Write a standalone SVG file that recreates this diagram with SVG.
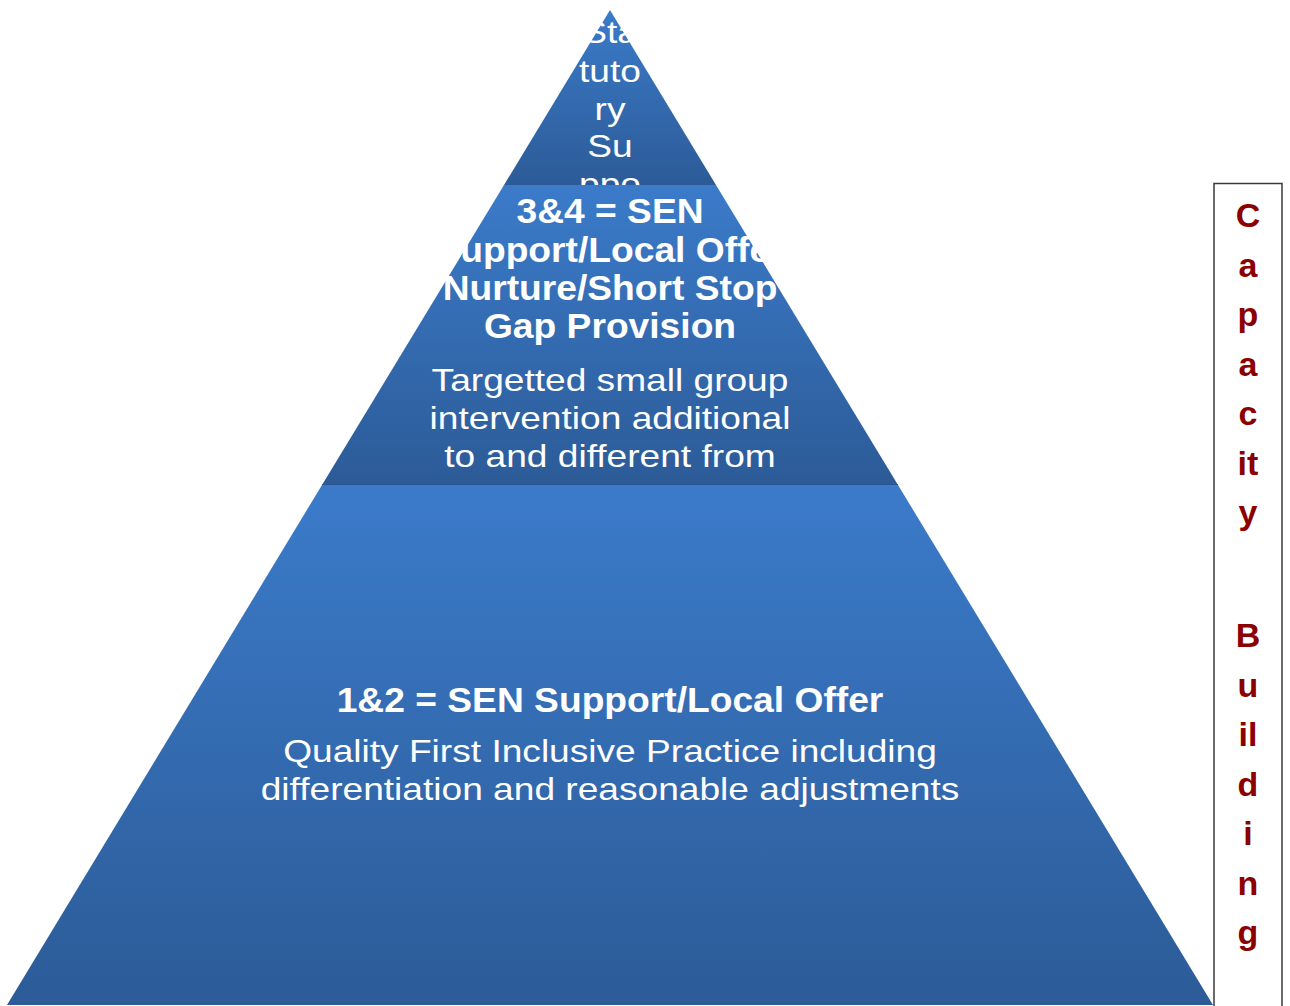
<svg xmlns="http://www.w3.org/2000/svg" width="1290" height="1006" viewBox="0 0 1290 1006">
  <defs>
    <linearGradient id="tierFill" x1="0" y1="0" x2="0" y2="1">
      <stop offset="0" stop-color="#3b7bca"/>
      <stop offset="1" stop-color="#2c5b97"/>
    </linearGradient>
    <style>
      .tier { fill: url(#tierFill); stroke: none; }
      .edge { stroke: #2a5590; stroke-width: 1.2; }
      .reg { font-family: "Liberation Sans", Arial, sans-serif; font-size: 32px; fill: #ffffff; text-anchor: middle; }
      .bold { font-family: "Liberation Sans", Arial, sans-serif; font-size: 35px; font-weight: bold; fill: #ffffff; text-anchor: middle; }
      .side { font-family: "Liberation Sans", Arial, sans-serif; font-size: 34px; font-weight: bold; fill: #8b0000; text-anchor: middle; }
    </style>
  </defs>
  <rect x="0" y="0" width="1290" height="1006" fill="#ffffff"/>

  <g id="tier-top">
    <polygon class="tier" points="610,10 716,185 504,185"/>
    <g transform="translate(610 0) scale(1.16 1)">
      <text class="reg" x="0" y="43">Sta</text>
      <text class="reg" x="0" y="82">tuto</text>
      <text class="reg" x="0" y="120">ry</text>
      <text class="reg" x="0" y="157">Su</text>
      <text class="reg" x="0" y="195">ppo</text>
    </g>
  </g>

  <g id="tier-middle">
    <polygon class="tier" points="504,185 716,185 898,485 322,485"/>
    <line class="edge" x1="322" y1="484.5" x2="898" y2="484.5"/>
    <g transform="translate(610 0) scale(1.063 1)">
      <text class="bold" x="0" y="223">3&amp;4 = SEN</text>
      <text class="bold" x="0" y="262">Support/Local Offer</text>
      <text class="bold" x="0" y="300">Nurture/Short Stop</text>
      <text class="bold" x="0" y="338">Gap Provision</text>
    </g>
    <g transform="translate(610 0) scale(1.16 1)">
      <text class="reg" x="0" y="391">Targetted small group</text>
      <text class="reg" x="0" y="429">intervention additional</text>
      <text class="reg" x="0" y="467">to and different from</text>
    </g>
  </g>

  <g id="tier-bottom">
    <polygon class="tier" points="322,485 898,485 1213,1005 7,1005"/>
    <g transform="translate(610 0) scale(1.063 1)">
      <text class="bold" x="0" y="712">1&amp;2 = SEN Support/Local Offer</text>
    </g>
    <g transform="translate(610 0) scale(1.16 1)">
      <text class="reg" x="0" y="762">Quality First Inclusive Practice including</text>
      <text class="reg" x="0" y="800">differentiation and reasonable adjustments</text>
    </g>
  </g>

  <g id="capacity-building">
    <rect x="1214" y="183.5" width="68" height="840" fill="#ffffff" stroke="#3a3a3a" stroke-width="1.5"/>
    <text class="side" x="1248" y="227">C</text>
    <text class="side" x="1248" y="276.5">a</text>
    <text class="side" x="1248" y="326">p</text>
    <text class="side" x="1248" y="375.5">a</text>
    <text class="side" x="1248" y="425">c</text>
    <text class="side" x="1248" y="474.5">it</text>
    <text class="side" x="1248" y="524">y</text>
    <text class="side" x="1248" y="647">B</text>
    <text class="side" x="1248" y="696.5">u</text>
    <text class="side" x="1248" y="746">il</text>
    <text class="side" x="1248" y="795.5">d</text>
    <text class="side" x="1248" y="845">i</text>
    <text class="side" x="1248" y="894.5">n</text>
    <text class="side" x="1248" y="944">g</text>
  </g>

  <g id="connectors"/>
</svg>
